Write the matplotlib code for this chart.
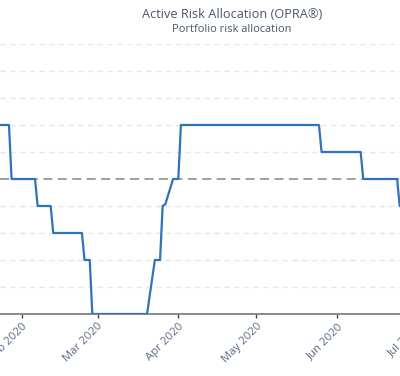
import matplotlib
matplotlib.use("Agg")
import matplotlib.pyplot as plt
import matplotlib.dates as mdates
import pandas as pd

plt.rcParams['font.family'] = ['Open Sans', 'DejaVu Sans']

# change points of the allocation series (date, level)
dates = ['2020-01-10', '2020-01-27', '2020-01-28', '2020-02-06', '2020-02-07',
         '2020-02-12', '2020-02-13', '2020-02-24', '2020-02-25', '2020-02-27',
         '2020-02-28', '2020-03-20', '2020-03-23', '2020-03-25', '2020-03-26',
         '2020-03-27', '2020-03-30', '2020-04-01', '2020-04-02', '2020-05-25',
         '2020-05-26', '2020-06-10', '2020-06-11', '2020-06-24', '2020-06-25',
         '2020-07-10']
values = [2, 2, 0, 0, -1,
          -1, -2, -2, -3, -3,
          -5, -5, -3, -3, -1,
          -0.94, 0, 0, 2, 2,
          1, 1, 0, 0, -1,
          -1]

x = pd.to_datetime(dates)

# the chart is cropped: the plot area runs past the right edge of the image
W = 440
fig = plt.figure(figsize=(4.0, 3.76), dpi=100)
ax = fig.add_axes([0, 0.1649, W / 400, 0.7181])

for lvl in range(-4, 6):
    if lvl == 0:
        continue
    ax.axhline(lvl, color='#e3e8ef', lw=1.0, dashes=(4, 3), zorder=1)
ax.axhline(0, color='#999999', lw=1.3, dashes=(5, 3), zorder=2)

ax.plot(x, values, color='#2f74b8', lw=1.6, zorder=3)

left = mdates.date2num(pd.Timestamp('2020-02-01')) - 22 / 2.605
right = left + W / 2.605
ax.set_xlim(left, right)
ax.set_ylim(-5, 5)

ax.xaxis.set_major_locator(mdates.MonthLocator())
ax.xaxis.set_major_formatter(mdates.DateFormatter('%b %Y'))
ax.tick_params(axis='x', length=3, width=1, color='#444444',
               labelsize=8.2, labelcolor='#5b6a82', pad=2)
for lab in ax.get_xticklabels():
    lab.set_rotation(45)
    lab.set_ha('right')
    lab.set_rotation_mode('anchor')
ax.set_yticks([])

for s in ['top', 'left', 'right']:
    ax.spines[s].set_visible(False)
ax.spines['bottom'].set_color('#777777')
ax.spines['bottom'].set_linewidth(1.2)

fig.text(232 / 400, 1 - 15 / 376, 'Active Risk Allocation (OPRA®)',
         ha='center', va='center', fontsize=9.2, color='#4a5568')
fig.text(232 / 400, 1 - 29 / 376, 'Portfolio risk allocation',
         ha='center', va='center', fontsize=7.9, color='#4a5568')

fig.savefig('out.png', dpi=100)
